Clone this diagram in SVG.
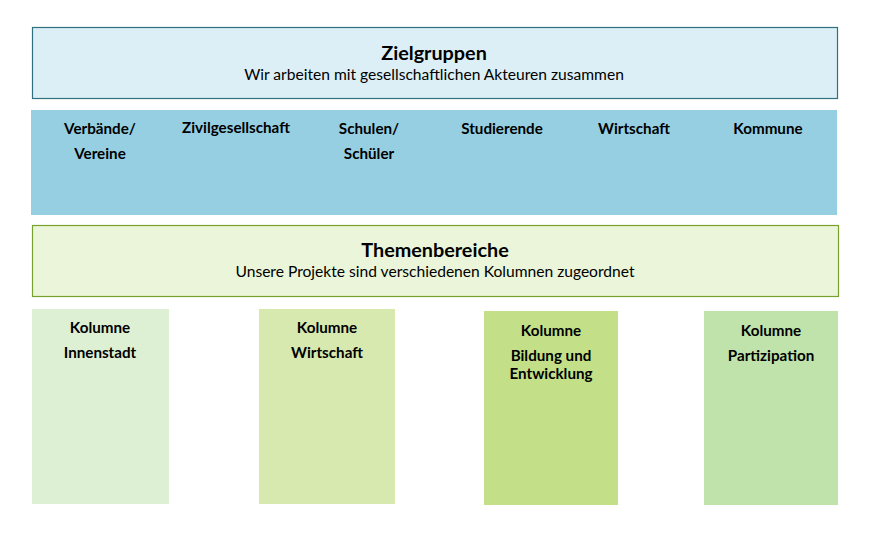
<svg xmlns="http://www.w3.org/2000/svg" width="871" height="535" viewBox="0 0 871 535">
<style>
text{font-family:Lato,"Open Sans","Liberation Sans",sans-serif;fill:#000;text-anchor:middle}
.h{font-size:19.8px;font-weight:bold}
.s{font-size:15.6px}
.b{font-size:15.2px;font-weight:bold}
</style>
<rect width="871" height="535" fill="#fff"/>
<g id="zielgruppen">
<rect x="32.5" y="27.5" width="805" height="71" fill="#DDEFF6" stroke="#31707F" stroke-width="1.2"/>
<text class="h" x="434" y="60">Zielgruppen</text>
<text class="s" x="434" y="80">Wir arbeiten mit gesellschaftlichen Akteuren zusammen</text>
</g>
<g id="gruppen">
<rect x="31" y="110" width="806" height="105" fill="#96CFE2"/>
<text class="b" x="100" y="134">Verbände/</text>
<text class="b" x="100" y="159">Vereine</text>
<text class="b" x="236" y="133">Zivilgesellschaft</text>
<text class="b" x="369" y="134">Schulen/</text>
<text class="b" x="369" y="159">Schüler</text>
<text class="b" x="502" y="134">Studierende</text>
<text class="b" x="634" y="134">Wirtschaft</text>
<text class="b" x="768" y="134">Kommune</text>
</g>
<g id="themenbereiche">
<rect x="32.5" y="225.5" width="806" height="71" fill="#EBF5D9" stroke="#77A22F" stroke-width="1.2"/>
<text class="h" x="435" y="257">Themenbereiche</text>
<text class="s" x="435" y="277">Unsere Projekte sind verschiedenen Kolumnen zugeordnet</text>
</g>
<g id="kolumne-innenstadt">
<rect x="32" y="309" width="137" height="195" fill="#DEF0D4"/>
<text class="b" x="100" y="333">Kolumne</text>
<text class="b" x="100" y="358">Innenstadt</text>
</g>
<g id="kolumne-wirtschaft">
<rect x="259" y="309" width="136" height="195" fill="#D7E9AF"/>
<text class="b" x="327" y="333">Kolumne</text>
<text class="b" x="327" y="358">Wirtschaft</text>
</g>
<g id="kolumne-bildung">
<rect x="484" y="311" width="134" height="194" fill="#C3E088"/>
<text class="b" x="551" y="336">Kolumne</text>
<text class="b" x="551" y="360.5">Bildung und</text>
<text class="b" x="551" y="378.5">Entwicklung</text>
</g>
<g id="kolumne-partizipation">
<rect x="704" y="311" width="134" height="194" fill="#C0E2AB"/>
<text class="b" x="771" y="336">Kolumne</text>
<text class="b" x="771" y="361">Partizipation</text>
</g>
<g id="connectors"/>
</svg>
